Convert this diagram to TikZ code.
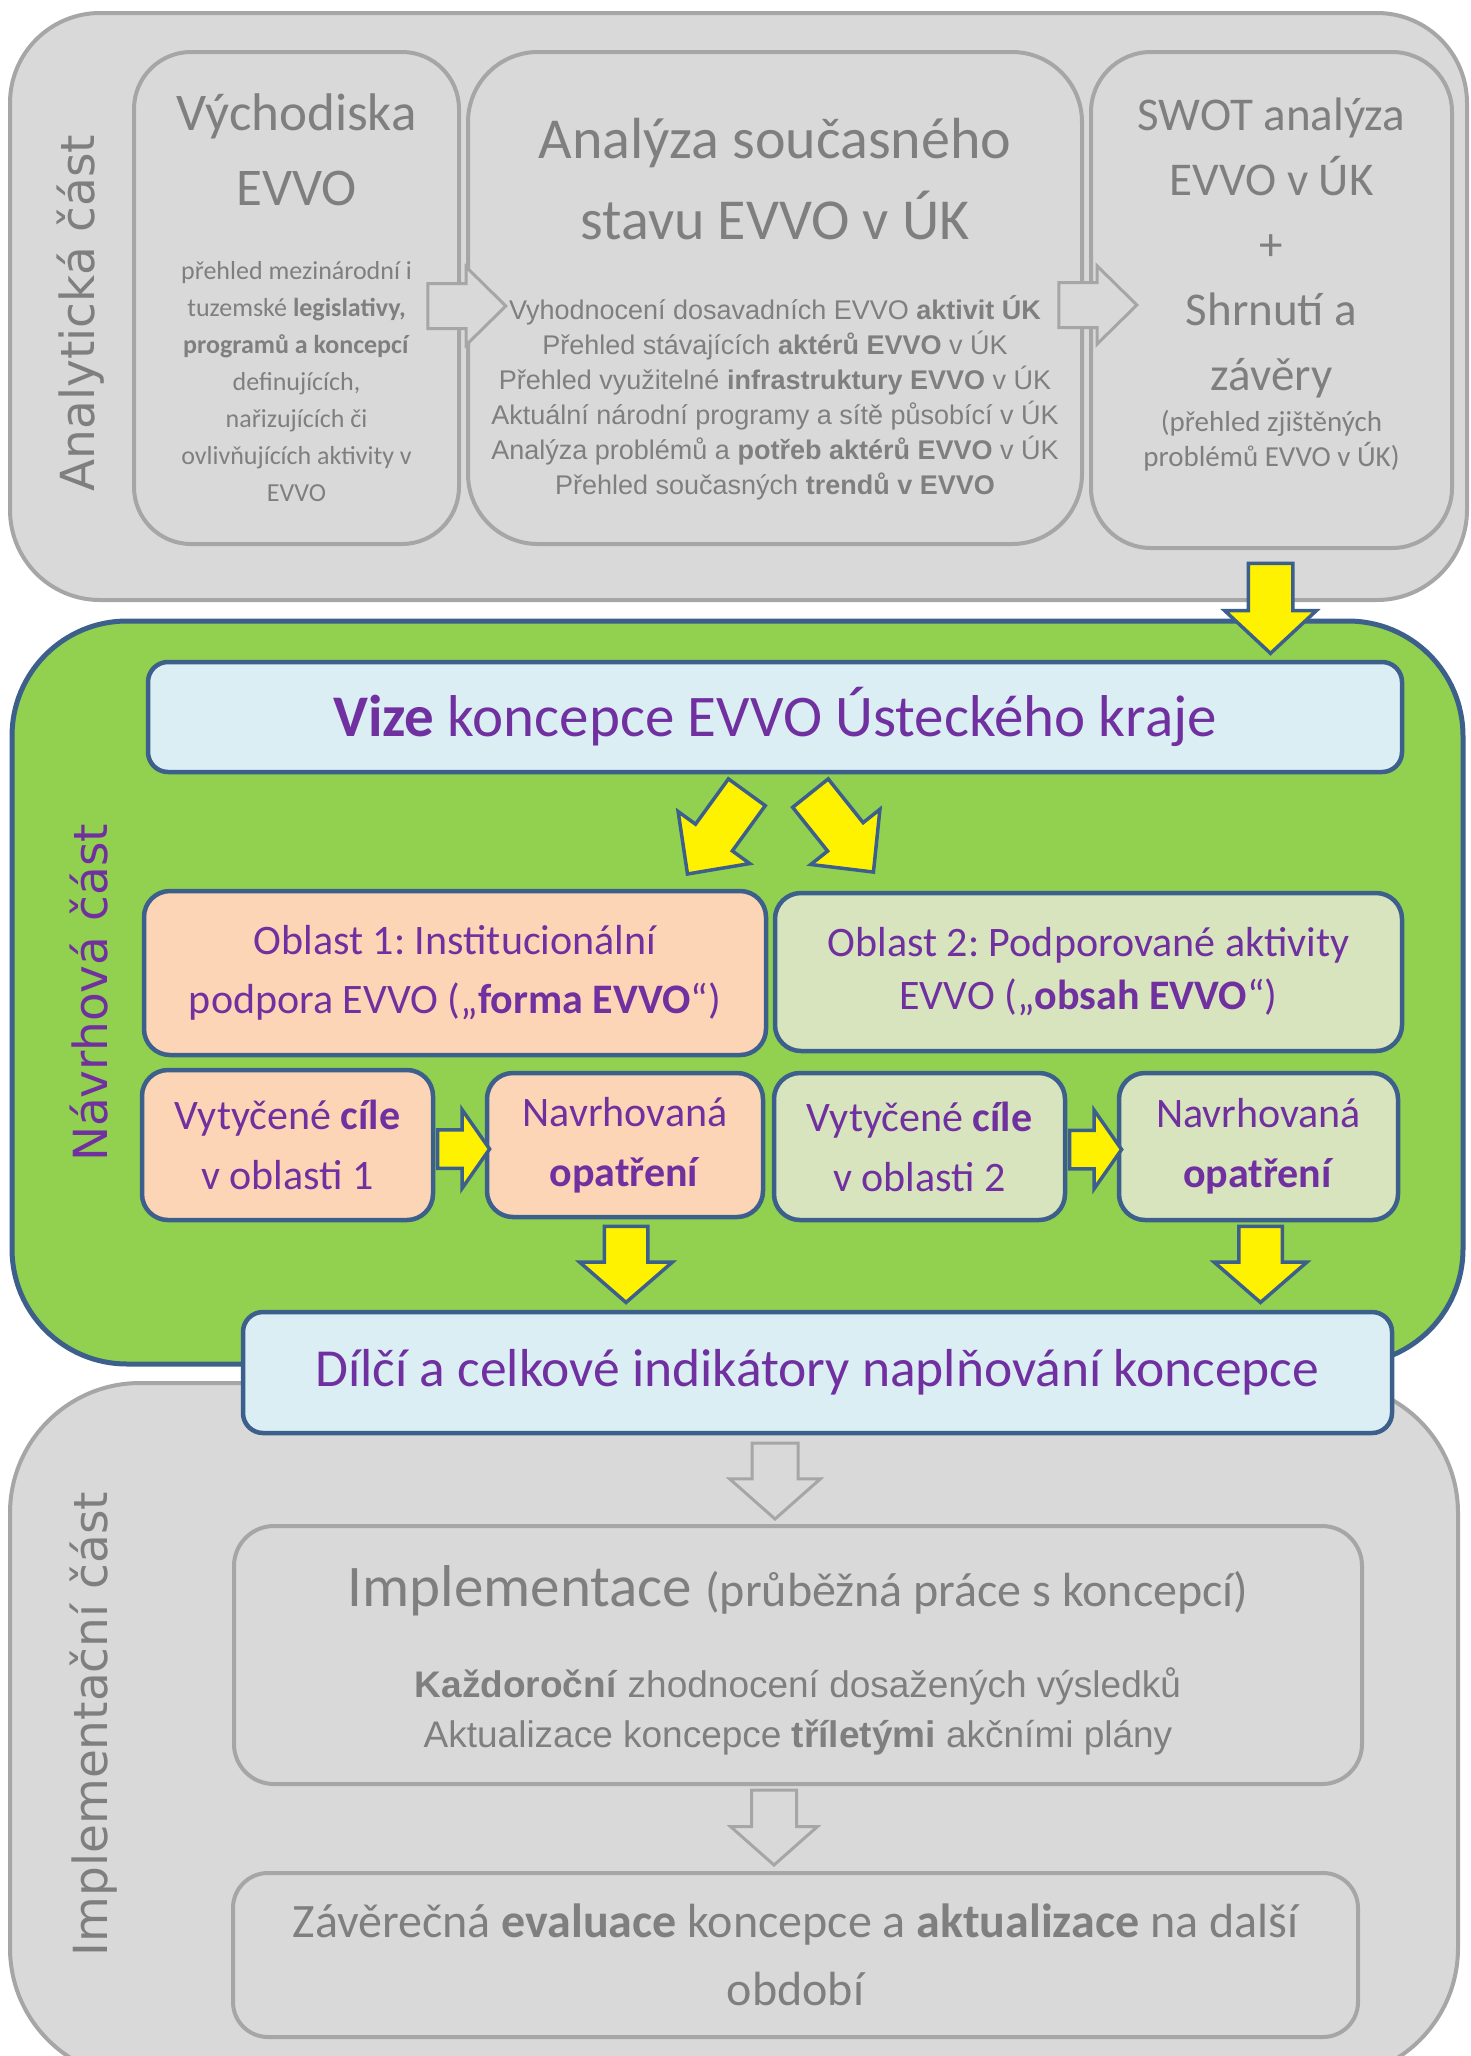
\documentclass[tikz,border=0pt]{standalone}
\usepackage{fontspec}
\setmainfont{Carlito}
\newfontfamily\arialfont{Liberation Sans}
\newfontfamily\sidefont{DejaVu Sans}
\usepackage{xcolor}
\usepackage{tikz}
\usetikzlibrary{positioning, calc, shapes.arrows}

\setlength{\parindent}{0pt}
\frenchspacing
\newcommand{\setfs}[2]{\fontsize{#1}{#2}\selectfont\spaceskip=0pt\xspaceskip=0pt\relax}

\definecolor{panelfill}{HTML}{D9D9D9}
\definecolor{panelline}{HTML}{A6A6A6}
\definecolor{graytext}{HTML}{7F7F7F}
\definecolor{leaf}{HTML}{92D050}
\definecolor{navy}{HTML}{3C5F8C}
\definecolor{iceblue}{HTML}{DBEEF4}
\definecolor{peach}{HTML}{FBD5B5}
\definecolor{sage}{HTML}{D7E4BD}
\definecolor{violet}{HTML}{7030A0}

\begin{document}
\begin{tikzpicture}[
    x=1pt, y=-1pt,
    panel/.style={draw=panelline, fill=panelfill, line width=4pt, inner sep=0pt},
    graybox/.style={draw=panelline, fill=panelfill, line width=4pt, inner sep=0pt, align=flush center, text=graytext},
    bluebox/.style={draw=navy, fill=iceblue, line width=4.5pt, rounded corners=20pt, inner sep=0pt, text=violet},
    areabox/.style={draw=navy, line width=4.5pt, rounded corners=26pt, inner sep=0pt, align=flush center, text=violet},
    sidelabel/.style={rotate=90, font=\sidefont\setfs{47}{56}},
    yarrow/.style={single arrow, draw=navy, fill=yellow, line width=3.5pt, inner xsep=0pt, anchor=tip},
    harrow/.style={single arrow, draw=panelline, fill=panelfill, line width=3pt, inner xsep=0pt, anchor=tip}
]
\useasboundingbox (0,0) rectangle (1470,2056);
\clip (0,0) rectangle (1470,2056);

% Three parts
\node[panel, rounded corners=90pt, minimum width=1457pt, minimum height=587pt] (analytic) at (738.5,306.5) {};
\node[panel, rounded corners=130pt, minimum width=1448pt, minimum height=695pt] (implpart) at (734,1730.5) {};
\node[draw=navy, fill=leaf, line width=5pt, rounded corners=115pt, minimum width=1451pt, minimum height=743pt, inner sep=0pt] (design) at (737.5,992.5) {};

\node[sidelabel, text=graytext] (analyticlbl) at (81,313) {Analytická část};
\node[sidelabel, text=violet] (designlbl) at (89,993) {Návrhová část};
\node[sidelabel, text=graytext] (impllbl) at (94,1724) {Implementační část};

% Analytic part
\node[graybox, rounded corners=57pt, minimum width=325pt, minimum height=492pt, text width=310pt] (vych) at (296.5,298) {%
  {\setfs{53}{75}Východiska\\EVVO\par}
  \vspace{37pt}
  {\setfs{26}{37}přehled mezinárodní i\\tuzemské \textbf{legislativy,}\\\textbf{programů a koncepcí}\\definujících,\\nařizujících či\\ovlivňujících aktivity v\\EVVO\par}};
\node[graybox, rounded corners=70pt, minimum width=614pt, minimum height=492pt, text width=600pt] (analyza) at (775,298) {%
  {\setfs{58}{81}\rule{0pt}{62pt}Analýza současného\\stavu EVVO v ÚK\par}
  \vspace{45pt}
  {\arialfont\setfs{27}{35}Vyhodnocení dosavadních EVVO \textbf{aktivit ÚK}\\
  Přehled stávajících \textbf{aktérů EVVO} v ÚK\\
  Přehled využitelné \textbf{infrastruktury EVVO} v ÚK\\
  Aktuální národní programy a sítě působící v ÚK\\
  Analýza problémů a \textbf{potřeb aktérů EVVO} v ÚK\\
  Přehled současných \textbf{trendů v EVVO}\par}};
\node[graybox, rounded corners=60pt, minimum width=361pt, minimum height=496pt, text width=345pt] (swot) at (1271.5,300) {%
  {\setfs{47}{65}SWOT analýza\\EVVO v ÚK\\+\\Shrnutí a\\závěry\par}
  \vspace{6pt}
  {\setfs{29}{35}(přehled zjištěných\\problémů EVVO v ÚK)\par}
  \vspace{30pt}};

% Design part
\node[bluebox, minimum width=1254pt, minimum height=110pt, font=\setfs{59}{70}] (vize) at (775,717) {\textbf{Vize} koncepce EVVO Ústeckého kraje};
\node[areabox, fill=peach, minimum width=622pt, minimum height=164pt, font=\setfs{42}{59}] (oblast1) at (455,973) {Oblast 1: Institucionální\\podpora EVVO („\textbf{forma EVVO}“)};
\node[areabox, fill=sage, minimum width=627pt, minimum height=158pt, font=\setfs{42}{53}] (oblast2) at (1088.5,972) {Oblast 2: Podporované aktivity\\EVVO („\textbf{obsah EVVO}“)};
\node[areabox, fill=peach, minimum width=291pt, minimum height=150pt, font=\setfs{42}{60}] (cile1) at (287.5,1145) {Vytyčené \textbf{cíle}\\v oblasti 1};
\node[areabox, fill=peach, minimum width=276pt, minimum height=144pt, font=\setfs{42}{60}] (opat1) at (625,1145) {Navrhovaná\\\textbf{opatření}};
\node[areabox, fill=sage, minimum width=291pt, minimum height=147pt, font=\setfs{42}{60}] (cile2) at (919.5,1146.5) {Vytyčené \textbf{cíle}\\v oblasti 2};
\node[areabox, fill=sage, minimum width=279pt, minimum height=147pt, font=\setfs{42}{60}] (opat2) at (1258.5,1146.5) {Navrhovaná\\\textbf{opatření}};
\node[bluebox, minimum width=1149pt, minimum height=121pt, font=\setfs{53.5}{62}] (indik) at (817.5,1372.5) {Dílčí a celkové indikátory naplňování koncepce};

% Implementation part
\node[graybox, rounded corners=40pt, minimum width=1128pt, minimum height=258pt, text width=1100pt] (impl) at (798,1655) {%
  {\setfs{59}{70}\rule{0pt}{52pt}Implementace {\setfs{48}{70}(průběžná práce s koncepcí)}\par}
  \vspace{41pt}
  {\arialfont\setfs{37}{50}\textbf{Každoroční} zhodnocení dosažených výsledků\\
  Aktualizace koncepce \textbf{tříletými} akčními plány\par}};
\node[graybox, rounded corners=35pt, minimum width=1125pt, minimum height=164pt, text width=1100pt] (zaver) at (795.5,1955) {%
  {\setfs{48}{68}Závěrečná \textbf{evaluace} koncepce a \textbf{aktualizace} na další\\období\par}};

% Block arrows
\node[harrow, inner ysep=21pt, minimum height=78pt, minimum width=75pt, single arrow head extend=16.5pt, single arrow tip angle=89] (vych2analyza) at ($(analyza.west)+(42,8)$) {};
\node[harrow, inner ysep=21pt, minimum height=78pt, minimum width=75pt, single arrow head extend=16.5pt, single arrow tip angle=89] (analyza2swot) at ($(swot.west)+(50,5)$) {};
\node[yarrow, rotate=-90, inner ysep=20.5pt, minimum height=90pt, minimum width=88pt, single arrow head extend=23.5pt, single arrow tip angle=94] (swot2vize) at ($(swot.south |- vize.north)+(-1,-4)$) {};
\node[yarrow, rotate=234, inner ysep=21pt, minimum height=101pt, minimum width=85pt, single arrow head extend=21.5pt, single arrow tip angle=89] (vize2obl1) at (686,876) {};
\node[yarrow, rotate=-51.4, inner ysep=21pt, minimum height=101pt, minimum width=85pt, single arrow head extend=21.5pt, single arrow tip angle=89] (vize2obl2) at (875,874) {};
\node[yarrow, inner ysep=17.5pt, minimum height=52pt, minimum width=75pt, single arrow head extend=20pt, single arrow tip angle=110] (cile2opat1) at ($(opat1.west)+(7,4)$) {};
\node[yarrow, inner ysep=17.5pt, minimum height=52pt, minimum width=75pt, single arrow head extend=20pt, single arrow tip angle=110] (cile2opat2) at ($(opat2.west)+(7,3)$) {};
\node[yarrow, rotate=-90, inner ysep=20pt, minimum height=76pt, minimum width=89pt, single arrow head extend=24.5pt, single arrow tip angle=98] (opat1ind) at ($(opat1.south |- indik.north)+(1,-5)$) {};
\node[yarrow, rotate=-90, inner ysep=20pt, minimum height=76pt, minimum width=89pt, single arrow head extend=24.5pt, single arrow tip angle=98] (opat2ind) at ($(opat2.south |- indik.north)+(2,-5)$) {};
\node[harrow, rotate=-90, inner ysep=21.5pt, minimum height=76pt, minimum width=88pt, single arrow head extend=22.5pt, single arrow tip angle=97] (ind2impl) at ($(impl.north)+(-23,-3)$) {};
\node[harrow, rotate=-90, inner ysep=21pt, minimum height=75pt, minimum width=84pt, single arrow head extend=21pt, single arrow tip angle=97] (impl2zaver) at ($(zaver.north)+(-21.5,-4)$) {};

\end{tikzpicture}
\end{document}
